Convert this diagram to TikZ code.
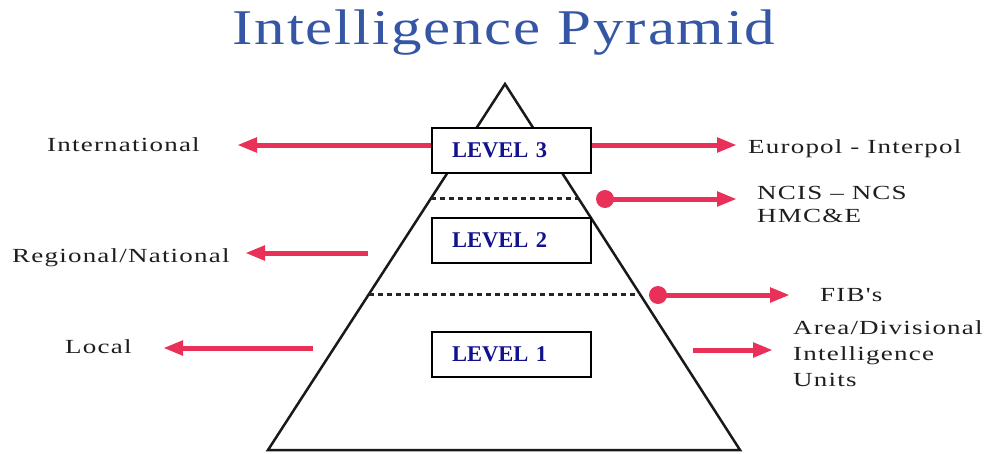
\documentclass[tikz,border=0pt]{standalone}
\usepackage{fontspec}
\setmainfont{Liberation Serif}
\newfontfamily\lblfont[LetterSpace=4.5]{Liberation Serif}
\newfontfamily\ttlfont[LetterSpace=3]{Liberation Serif}
\usetikzlibrary{arrows.meta,calc}
\definecolor{ttlblue}{RGB}{52,86,165}
\definecolor{arrred}{RGB}{232,48,88}
\definecolor{lvlblue}{RGB}{18,18,140}
\definecolor{lbltext}{RGB}{30,30,30}
\newcommand{\widetxt}[1]{\scalebox{1.35}[1]{#1}}
\begin{document}
\begin{tikzpicture}[x=1pt,y=-1pt,
  lbl/.style={anchor=base west, inner sep=0pt, text=lbltext, font=\lblfont\fontsize{20}{26}\selectfont},
  redarr/.style={draw=arrred, line width=5pt, -{Triangle[length=20pt,width=14pt]}},
  lvlbox/.style={draw=black, line width=1.5pt, fill=white, minimum width=159pt, minimum height=45pt,
    inner xsep=20pt, inner ysep=0pt, text width=119pt, align=left, text=lvlblue,
    font=\bfseries\fontsize{22.5}{26}\selectfont},
  reddot/.style={circle, fill=arrred, minimum size=18pt, inner sep=0pt},
  sep/.style={draw=black!85, line width=3pt, dash pattern=on 5pt off 4pt},
  pyr/.style={draw=black!90, line width=2.5pt, line join=miter}]
\useasboundingbox (0,0) rectangle (989,453);
% title
\node[anchor=base, inner sep=0pt, text=ttlblue, font=\ttlfont\fontsize{50}{60}\selectfont] (title) at (504,44) {\scalebox{1.22}[1]{Intelligence Pyramid}};
% pyramid
\coordinate (apex) at (505,84);
\coordinate (bl) at (268,450);
\coordinate (br) at (740,450);
\draw[pyr] (apex) -- (br) -- (bl) -- cycle;
\draw[sep] ($(apex)!0.3115!(bl)$) -- ($(apex)!0.3115!(br)$);
\draw[sep] ($(apex)!0.5738!(bl)$) -- ($(apex)!0.5738!(br)$);
% level boxes
\node[lvlbox] (lv3) at (511.5,150.5) {LEVEL 3};
\node[lvlbox] (lv2) at (511.5,240.5) {LEVEL 2};
\node[lvlbox] (lv1) at (511.5,354.5) {LEVEL 1};
% left labels
\node[lbl] (intl) at (47,151) {\widetxt{International}};
\node[lbl] (reg) at (12,262) {\widetxt{Regional/National}};
\node[lbl] (loc) at (65,353) {\widetxt{Local}};
% right labels
\node[lbl] (euro) at (748,153) {\widetxt{Europol - Interpol}};
\node[lbl] (ncis) at (757,199) {\widetxt{NCIS – NCS}};
\node[lbl] (hmce) at (757,222) {\widetxt{HMC\&E}};
\node[lbl] (fib) at (820,301) {\widetxt{FIB's}};
\node[lbl] (area) at (793,334) {\widetxt{Area/Divisional}};
\node[lbl] (intel) at (793,360) {\widetxt{Intelligence}};
\node[lbl] (units) at (793,386) {\widetxt{Units}};
% arrow coordinates
\coordinate (tintl) at (237,145);
\coordinate (teuro) at (737,145);
\coordinate (sreg) at (368,253);
\coordinate (treg) at (245,253);
\coordinate (sloc) at (313,348);
\coordinate (tloc) at (163,348);
\coordinate (tncis) at (737,199);
\coordinate (tfib) at (790,295);
\coordinate (sarea) at (693,350);
\coordinate (tarea) at (773,350);
\node[reddot] (d1) at (605,199) {};
\node[reddot] (d2) at (658,295) {};
% arrows
\draw[redarr] ([yshift=5.5pt]lv3.west) -- (tintl);
\draw[redarr] ([yshift=5.5pt]lv3.east) -- (teuro);
\draw[redarr] (sreg) -- (treg);
\draw[redarr] (sloc) -- (tloc);
\draw[redarr] (d1.center) -- (tncis);
\draw[redarr] (d2.center) -- (tfib);
\draw[redarr] (sarea) -- (tarea);
\end{tikzpicture}
\end{document}
